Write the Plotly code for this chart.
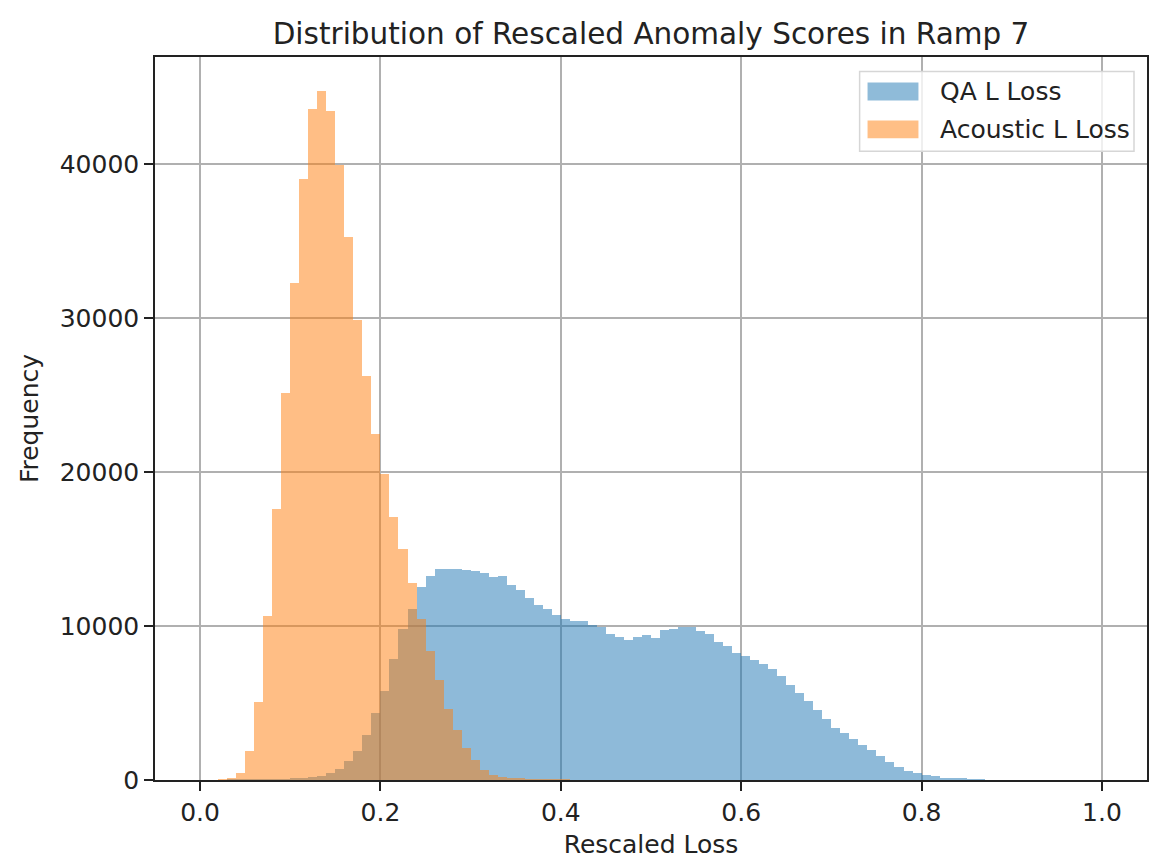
import numpy as np
import plotly.graph_objects as go

# histogram bin edges: 100 bins over [0, 1]
bin_start = 0.0
bin_width = 0.01

qa_counts = [
    0, 0, 0, 5, 8, 10, 15, 20, 30, 45,
    70, 110, 170, 280, 455, 715, 1210, 1860, 2950, 4360,
    5810, 7890, 9820, 11140, 12550, 13250, 13720, 13720, 13720, 13640,
    13570, 13460, 13180, 13250, 12700, 12340, 11840, 11400, 11140, 10750,
    10490, 10360, 10320, 10060, 9930, 9500, 9320, 9130, 9280, 9450,
    9240, 9780, 9840, 9930, 9930, 9670, 9520, 8950, 8740, 8260,
    8040, 7780, 7570, 7220, 6790, 6200, 5660, 5120, 4530, 3970,
    3380, 3060, 2690, 2300, 1970, 1540, 1150, 825, 605, 455,
    345, 240, 150, 110, 80, 50, 20, 0, 0, 0,
    0, 0, 0, 0, 0, 0, 0, 0, 0, 0,
]

acoustic_counts = [
    0, 0, 20, 110, 480, 1900, 5100, 10690, 17580, 25125,
    32280, 39045, 43600, 44748, 43490, 39980, 35317, 29900, 26255, 22460,
    19860, 17105, 14980, 12810, 10470, 8370, 6480, 4640, 3230, 2080,
    1280, 670, 345, 195, 120, 80, 40, 25, 12, 6,
    3, 0, 0, 0, 0, 0, 0, 0, 0, 0,
    0, 0, 0, 0, 0, 0, 0, 0, 0, 0,
    0, 0, 0, 0, 0, 0, 0, 0, 0, 0,
    0, 0, 0, 0, 0, 0, 0, 0, 0, 0,
    0, 0, 0, 0, 0, 0, 0, 0, 0, 0,
    0, 0, 0, 0, 0, 0, 0, 0, 0, 0,
]

series_names = ["QA L Loss", "Acoustic L Loss"]
x_tick_vals = [0.0, 0.2, 0.4, 0.6, 0.8, 1.0]
y_tick_vals = [0, 10000, 20000, 30000, 40000]
title_text = "Distribution of Rescaled Anomaly Scores in Ramp 7"
x_label = "Rescaled Loss"
y_label = "Frequency"

colors = ["#1f77b4", "#ff7f0e"]
FONT = "DejaVu Sans"

centers = bin_start + bin_width * (np.arange(len(qa_counts)) + 0.5)

fig = go.Figure()
for name, counts, col in zip(series_names, [qa_counts, acoustic_counts], colors):
    fig.add_trace(go.Bar(
        x=centers, y=counts, width=bin_width, name=name,
        marker=dict(color=col, line=dict(width=0)), opacity=0.5,
        showlegend=False,
    ))

ymax = max(max(qa_counts), max(acoustic_counts)) * 1.05

axis_common = dict(
    showline=True, linecolor="#222222", linewidth=1.5, mirror=True,
    ticks="outside", ticklen=9, tickwidth=1.5, tickcolor="#222222",
    showgrid=True, gridcolor="#b0b0b0", gridwidth=1.6,
    zeroline=False,
    tickfont=dict(family=FONT, size=25, color="#222222"),
)

fig.update_layout(
    width=1152, height=859,
    margin=dict(l=155, r=3, t=57, b=77),
    paper_bgcolor="white", plot_bgcolor="white",
    barmode="overlay", bargap=0,
    font=dict(family=FONT, color="#222222"),
    title=dict(text=title_text, x=0.5, xref="paper", xanchor="center",
               y=1 - 34 / 859, yref="container", yanchor="middle",
               font=dict(family=FONT, size=29.5, color="#222222")),
    xaxis=dict(range=[-0.05, 1.05], tickvals=x_tick_vals, tickformat=".1f",
               title=dict(text=x_label, font=dict(family=FONT, size=25, color="#222222"), standoff=12),
               **axis_common),
    yaxis=dict(range=[0, ymax], tickvals=y_tick_vals, tickformat="d",
               title=dict(text=y_label, font=dict(family=FONT, size=25, color="#222222"), standoff=14),
               **axis_common),
)

# legend (matplotlib style box, upper right)
fig.add_shape(type="rect", xref="paper", yref="paper",
              x0=0.7103, x1=0.9869, y0=0.8696, y1=0.98,
              line=dict(color="#d6d6d6", width=1.5),
              fillcolor="rgba(255,255,255,0.8)", layer="above")
leg_y = [(0.940, 0.9648, 0.9524), (0.8875, 0.9123, 0.8992)]
for (y0, y1, yc), name, col in zip(leg_y, series_names, colors):
    fig.add_shape(type="rect", xref="paper", yref="paper",
                  x0=0.7183, x1=0.7696, y0=y0, y1=y1,
                  line=dict(width=0), fillcolor=col, opacity=0.5, layer="above")
    fig.add_annotation(xref="paper", yref="paper", x=0.7897, y=yc,
                       text=name, showarrow=False, xanchor="left", yanchor="middle",
                       font=dict(family=FONT, size=25, color="#222222"))

fig.write_html("out.html")
